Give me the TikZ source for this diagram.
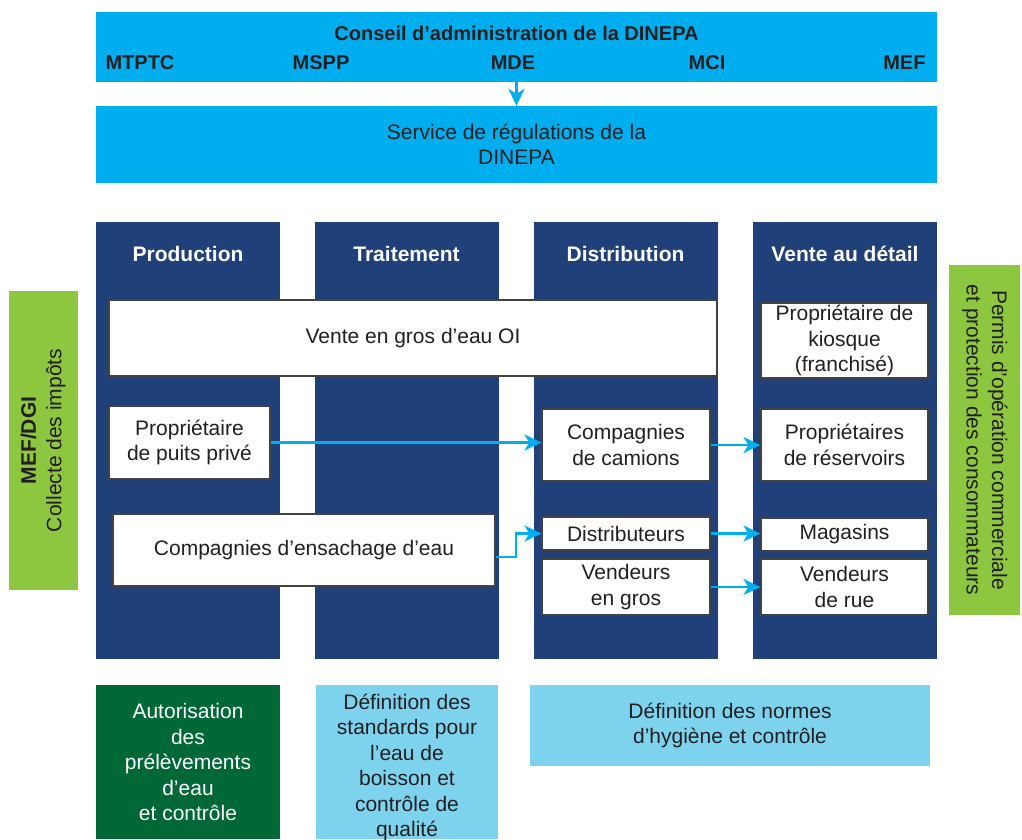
\documentclass[tikz,border=0pt]{standalone}
\usepackage{fontspec}
\setmainfont{Liberation Sans}
\usepackage{xcolor}
\usetikzlibrary{arrows.meta}

\definecolor{dcyan}{RGB}{0,174,239}
\definecolor{dnavy}{RGB}{32,64,122}
\definecolor{dlime}{RGB}{141,198,63}
\definecolor{dgreen}{RGB}{0,104,55}
\definecolor{dsky}{RGB}{125,211,238}
\definecolor{dink}{RGB}{35,31,32}

\begin{document}
\begin{tikzpicture}[
    x=1pt, y=-1pt,
    font=\fontsize{21}{25.5}\selectfont, text=dink,
    band/.style={fill=dcyan, minimum width=841pt, inner sep=0pt},
    col/.style={fill=dnavy, minimum width=184pt, minimum height=437pt, inner sep=0pt},
    hdr/.style={font=\fontsize{21}{25.5}\selectfont\bfseries, text=white},
    mbr/.style={font=\fontsize{20}{24}\selectfont\bfseries},
    act/.style={draw=dink!85, fill=white, line width=1.2pt, minimum width=168pt,
                align=center, inner sep=0pt},
    side/.style={fill=dlime, inner sep=0pt, align=center},
    ctl/.style={inner sep=0pt, align=center},
    arr/.style={-{Stealth[length=17pt, width=16pt, inset=5pt]}, dcyan, line width=2.2pt},
  ]

  \useasboundingbox (0,0) rectangle (1022,839);

  % -- Board and regulator
  \node[band, minimum height=70pt] (cad) at (516.5,47) {};
  \node[mbr] (cadt) at (516.5,33) {Conseil d’administration de la DINEPA};
  \node[mbr, anchor=west] (mtptc) at (102,63) {MTPTC};
  \node[mbr] (mspp) at (321,63) {MSPP};
  \node[mbr] (mde) at (513,63) {MDE};
  \node[mbr] (mci) at (707,63) {MCI};
  \node[mbr, anchor=east] (mef) at (929,63) {MEF};

  \node[band, minimum height=77pt, align=center] (reg) at (516.5,144.5)
    {Service de régulations de la\\DINEPA};

  % -- Value chain columns
  \node[col] (prod) at (188,440.5) {};
  \node[col] (trait) at (406.5,440.5) {};
  \node[col] (dist) at (625.5,440.5) {};
  \node[col] (vente) at (845,440.5) {};
  \node[hdr] (prodh) at (188,254) {Production};
  \node[hdr] (traith) at (406.5,254) {Traitement};
  \node[hdr] (disth) at (625.5,254) {Distribution};
  \node[hdr] (venteh) at (845,254) {Vente au détail};

  % -- Side authorities
  \node[side, minimum width=69pt, minimum height=299pt] (dgi) at (43.5,440.5)
    {\rotatebox{90}{\begin{tabular}{@{}c@{}}\textbf{MEF/DGI}\\Collecte des impôts\end{tabular}}};
  \node[side, minimum width=71pt, minimum height=350pt] (permis) at (984.5,440)
    {\rotatebox{-90}{\begin{tabular}{@{}c@{}}Permis d’opération commerciale\\et protection des consommateurs\end{tabular}}};

  % -- Actors
  \node[act, minimum width=608pt, minimum height=76pt] (gros) at (413,338)
    {Vente en gros d’eau OI};
  \node[act, minimum width=161pt, minimum height=73pt] (puits) at (189.5,442.5)
    {Propriétaire\\de puits privé};
  \node[act, minimum width=382pt, minimum height=72pt] (ensach) at (304,550)
    {Compagnies d’ensachage d’eau};
  \node[act, minimum height=72pt] (camion) at (626,445)
    {Compagnies\\de camions};
  \node[act, minimum height=33pt] (distrib) at (626,533.5) {Distributeurs};
  \node[act, minimum height=56pt] (vgros) at (626,587) {Vendeurs\\en gros};
  \node[act, minimum width=167pt, minimum height=75pt] (kiosq) at (844.5,340.5)
    {Propriétaire de\\kiosque\\(franchisé)};
  \node[act, minimum width=167pt, minimum height=72pt] (reserv) at (844.5,445)
    {Propriétaires\\de réservoirs};
  \node[act, minimum width=167pt, minimum height=33pt] (magas) at (844.5,534.5) {Magasins};
  \node[act, minimum width=167pt, minimum height=56pt] (vrue) at (844.5,587)
    {Vendeurs\\de rue};

  % -- Control bodies
  \node[ctl, fill=dgreen, text=white, minimum width=184pt, minimum height=154pt]
    (autor) at (188,762)
    {Autorisation\\des\\prélèvements\\d’eau\\et contrôle};
  \node[ctl, fill=dsky, minimum width=182pt, minimum height=154pt] (stdq) at (407,762)
    {\raisebox{-11pt}[0pt][0pt]{\begin{tabular}{@{}c@{}}Définition des\\standards pour\\l’eau de\\boisson et\\contrôle de\\qualité\end{tabular}}};
  \node[ctl, fill=dsky, minimum width=400pt, minimum height=81pt] (normes) at (730,725.5)
    {Définition des normes\\d’hygiène et contrôle};

  % -- Flows
  \draw[arr] (cad.south) -- (reg.north);
  \draw[arr] (puits.east) -- (puits.east -| camion.west);
  \draw[arr] (camion.east) -- (reserv.west);
  \draw[arr] ([yshift=-7pt]ensach.east) -- ++(20,0) |- (distrib.west);
  \draw[arr] (distrib.east) -- (distrib.east -| magas.west);
  \draw[arr] (vgros.east) -- (vrue.west);

\end{tikzpicture}
\end{document}
